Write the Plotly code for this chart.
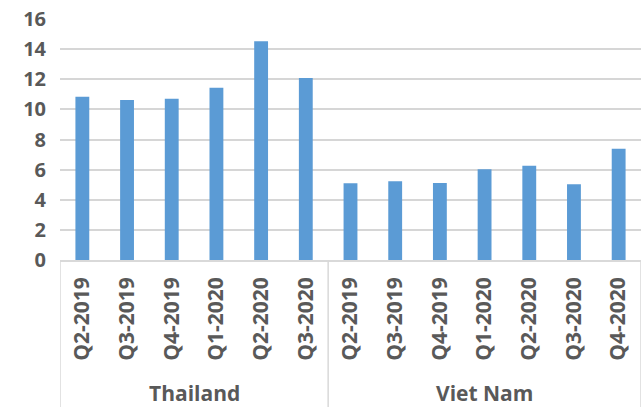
import plotly.graph_objects as go

countries = ["Thailand"] * 6 + ["Viet Nam"] * 7
quarters = ["Q2-2019", "Q3-2019", "Q4-2019", "Q1-2020", "Q2-2020", "Q3-2020",
            "Q2-2019", "Q3-2019", "Q4-2019", "Q1-2020", "Q2-2020", "Q3-2020", "Q4-2020"]
values = [10.84, 10.62, 10.70, 11.44, 14.52, 12.08,
          5.10, 5.23, 5.12, 6.03, 6.25, 5.03, 7.38]
y_ticks = [0, 2, 4, 6, 8, 10, 12, 14, 16]

font = dict(family="Open Sans", size=20, color="#595959", weight="bold")
xfont = dict(family="Open Sans", size=21, color="#595959", weight="bold")
grey = "#d9d9d9"

idx = list(range(len(values)))

fig = go.Figure(go.Bar(
    x=idx,
    y=values,
    marker=dict(color="#5b9bd5", line=dict(width=0)),
))

# group extents derived from the category lists
groups = []
for i, c in enumerate(countries):
    if not groups or groups[-1][0] != c:
        groups.append([c, i, i])
    else:
        groups[-1][2] = i

plot_h = 407 - 19 - 147
for name, start, end in groups:
    fig.add_annotation(
        x=(start + end) / 2, xref="x",
        y=-(393 - 260) / plot_h, yref="paper",
        text=name, showarrow=False, font=xfont,
        xanchor="center", yanchor="middle",
    )
bounds = [g[1] - 0.5 for g in groups] + [groups[-1][2] + 0.5]
for b in bounds:
    fig.add_shape(
        type="line", xref="x", yref="paper",
        x0=b, x1=b, y0=0, y1=-(407 - 260) / plot_h,
        line=dict(color=grey, width=1.5),
    )

fig.update_layout(
    width=643, height=407,
    margin=dict(l=60, r=2, t=19, b=147),
    paper_bgcolor="white", plot_bgcolor="white",
    bargap=0.69,
    showlegend=False,
    font=font,
)
fig.update_xaxes(
    range=[-0.5, len(values) - 0.5],
    tickvals=idx, ticktext=quarters,
    tickangle=-90,
    tickfont=xfont,
    showline=True, linecolor=grey, linewidth=1.5,
    showgrid=False, zeroline=False,
    ticks="", ticklabelstandoff=7,
)
fig.update_yaxes(
    range=[0, 16], tickvals=y_ticks,
    tickfont=font,
    showgrid=True, gridcolor="#d6d6d6", gridwidth=1.5,
    zeroline=False, showline=False,
    ticks="", ticklabelstandoff=13,
)

fig.write_html("out.html")
